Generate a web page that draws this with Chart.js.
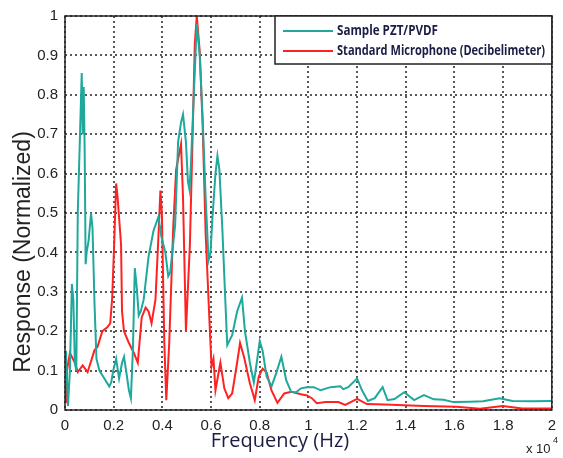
<!DOCTYPE html>
<html>
<head>
<meta charset="utf-8">
<script src="https://cdn.jsdelivr.net/npm/chart.js@4"></script>
<style>
  html, body { margin: 0; padding: 0; background: #fff; }
  #wrap { width: 563px; height: 458px; position: relative; }
</style>
</head>
<body>
<div id="wrap"><canvas id="respChart"></canvas></div>
<script>
// frequency in Hz, response normalized
const sampleFreq = [0, 40, 121, 202, 283, 343, 404, 465, 525, 626, 687, 727, 768, 808, 848, 889, 970, 1071, 1131, 1212,
    1293, 1414, 1616, 1818, 1899, 1980, 2101, 2222, 2343, 2424, 2545, 2626, 2707, 2788, 2868, 2949, 3030, 3111, 3232, 3434,
    3636, 3838, 3959, 4040, 4121, 4242, 4323, 4525, 4646, 4767, 4848, 4969, 5050, 5111, 5171, 5333, 5414, 5535, 5656, 5777,
    5898, 5979, 6060, 6181, 6262, 6343, 6464, 6585, 6666, 6787, 6868, 7070, 7272, 7393, 7595, 7757, 7878, 8000, 8120, 8282,
    8484, 8686, 8888, 9090, 9292, 9494, 9696, 9938, 10221, 10504, 10908, 11312, 11433, 11635, 12000, 12201, 12443, 12726, 13049, 13251,
    13534, 13938, 14342, 14746, 15150, 15554, 15958, 16645, 17170, 17857, 18382, 19190, 20000];
const sampleResp = [0.08, 0.15, 0.01, 0.10, 0.32, 0.28, 0.12, 0.10, 0.50, 0.72, 0.855, 0.70, 0.82, 0.66, 0.37, 0.40, 0.43, 0.50, 0.46, 0.27,
    0.13, 0.10, 0.08, 0.06, 0.07, 0.10, 0.13, 0.08, 0.12, 0.135, 0.085, 0.05, 0.03, 0.15, 0.36, 0.31, 0.24, 0.25, 0.28, 0.39,
    0.455, 0.49, 0.44, 0.42, 0.40, 0.34, 0.35, 0.47, 0.68, 0.73, 0.75, 0.68, 0.58, 0.56, 0.62, 0.86, 0.98, 0.90, 0.74, 0.54,
    0.38, 0.40, 0.49, 0.60, 0.645, 0.61, 0.46, 0.28, 0.165, 0.18, 0.19, 0.25, 0.285, 0.20, 0.12, 0.07, 0.12, 0.175, 0.15, 0.085,
    0.06, 0.095, 0.135, 0.075, 0.046, 0.045, 0.055, 0.058, 0.058, 0.05, 0.058, 0.06, 0.053, 0.058, 0.08, 0.05, 0.023, 0.03, 0.058, 0.025,
    0.028, 0.045, 0.025, 0.038, 0.027, 0.026, 0.02, 0.021, 0.022, 0.03, 0.023, 0.022, 0.023];

const micFreq = [0, 40, 81, 202, 404, 525, 727, 929, 1212, 1333, 1535, 1737, 1858, 1939, 2020, 2101, 2161, 2303, 2343, 2424,
    2626, 2828, 2990, 3151, 3313, 3434, 3555, 3717, 3838, 3919, 3979, 4080, 4161, 4282, 4444, 4565, 4767, 4848, 4969, 5131,
    5252, 5333, 5414, 5535, 5656, 5777, 5939, 6020, 6100, 6181, 6383, 6545, 6706, 6868, 7070, 7191, 7353, 7595, 7797, 7959,
    8120, 8282, 8484, 8727, 9009, 9292, 9696, 9938, 10140, 10342, 10706, 11231, 11514, 12000, 12403, 13130, 13938, 14746, 16079, 17049,
    17978, 18786, 20000];
const micResp = [0.02, 0.06, 0.10, 0.145, 0.12, 0.096, 0.113, 0.096, 0.152, 0.16, 0.20, 0.21, 0.22, 0.285, 0.42, 0.575, 0.54, 0.42, 0.25, 0.20,
    0.17, 0.145, 0.12, 0.235, 0.26, 0.25, 0.22, 0.28, 0.44, 0.557, 0.50, 0.17, 0.025, 0.17, 0.46, 0.61, 0.675, 0.54, 0.20, 0.42,
    0.72, 0.93, 1.0, 0.91, 0.72, 0.45, 0.22, 0.11, 0.13, 0.05, 0.12, 0.055, 0.03, 0.042, 0.12, 0.17, 0.135, 0.068, 0.025, 0.085,
    0.105, 0.095, 0.05, 0.018, 0.042, 0.046, 0.04, 0.037, 0.03, 0.017, 0.02, 0.02, 0.013, 0.028, 0.015, 0.014, 0.012, 0.01, 0.008, 0.003,
    0.01, 0.004, 0.004];

const xTicks = [0, 2000, 4000, 6000, 8000, 10000, 12000, 14000, 16000, 18000, 20000];
const yTicks = [0, 0.1, 0.2, 0.3, 0.4, 0.5, 0.6, 0.7, 0.8, 0.9, 1];

const seriesNames = ['Sample PZT/PVDF', 'Standard Microphone (Decibelimeter)'];
const tealColor = '#1fa89c';
const redColor = '#ff2222';

function toPoints(xs, ys) {
    return xs.map((x, i) => ({ x: x, y: ys[i] }));
}

// dotted grid drawn from the scales' tick positions
const gridPlugin = {
    id: 'dotGrid',
    beforeDatasetsDraw(chart) {
        const ctx = chart.ctx;
        const a = chart.chartArea;
        const xs = chart.scales.x, ys = chart.scales.y;
        ctx.save();
        ctx.strokeStyle = '#222222';
        ctx.lineWidth = 1.5;
        ctx.setLineDash([2, 3]);
        xTicks.forEach(v => {
            const px = Math.round(xs.getPixelForValue(v));
            ctx.beginPath();
            ctx.moveTo(px, a.top);
            ctx.lineTo(px, a.bottom);
            ctx.stroke();
        });
        yTicks.forEach(v => {
            const py = Math.round(ys.getPixelForValue(v));
            ctx.beginPath();
            ctx.moveTo(a.left, py);
            ctx.lineTo(a.right, py);
            ctx.stroke();
        });
        ctx.restore();
    }
};

function fitText(ctx, text, x, y, width) {
    const w = ctx.measureText(text).width;
    ctx.save();
    ctx.translate(x, y);
    ctx.scale(width / w, 1);
    ctx.fillText(text, 0, 0);
    ctx.restore();
}

// frame, inside legend, axis titles, x10^4 label
const decorPlugin = {
    id: 'decor',
    afterDatasetsDraw(chart) {
        const ctx = chart.ctx;
        const a = chart.chartArea;
        ctx.save();
        ctx.strokeStyle = '#222';
        ctx.lineWidth = 1.5;
        ctx.setLineDash([]);
        ctx.strokeRect(a.left, a.top, a.right - a.left, a.bottom - a.top);

        // legend box
        const lx = 275, ly = a.top, lw = a.right - 275, lh = 48;
        ctx.fillStyle = '#fff';
        ctx.fillRect(lx, ly, lw, lh);
        ctx.strokeRect(lx, ly, lw, lh);
        const colors = [tealColor, redColor];
        const widths = [101, 208];
        ctx.font = 'bold 14px "Open Sans", sans-serif';
        ctx.textBaseline = 'middle';
        ctx.textAlign = 'left';
        seriesNames.forEach((name, i) => {
            const yy = ly + 15 + i * 20;
            ctx.strokeStyle = colors[i];
            ctx.lineWidth = 2;
            ctx.beginPath();
            ctx.moveTo(lx + 8, yy);
            ctx.lineTo(lx + 58, yy);
            ctx.stroke();
            ctx.fillStyle = '#1b1d45';
            fitText(ctx, name, lx + 62, yy, widths[i]);
        });

        // axis titles
        ctx.fillStyle = '#1b1d45';
        ctx.font = '20px "Open Sans", sans-serif';
        ctx.textAlign = 'center';
        ctx.fillText('Frequency (Hz)', 280, 441);

        ctx.save();
        ctx.translate(24, 252);
        ctx.rotate(-Math.PI / 2);
        ctx.fillStyle = '#222';
        ctx.font = '23px "Liberation Sans", Arial, sans-serif';
        ctx.fillText('Response (Normalized)', 0, 0);
        ctx.restore();

        // exponent
        ctx.fillStyle = '#222';
        ctx.font = '13px "Liberation Sans", Arial, sans-serif';
        ctx.textAlign = 'left';
        ctx.fillText('x 10', 526, 449);
        ctx.font = '9px "Liberation Sans", Arial, sans-serif';
        ctx.fillText('4', 553, 441);
        ctx.restore();
    }
};

const ctx = document.getElementById('respChart').getContext('2d');
const chart = new Chart(ctx, {
    type: 'line',
    data: {
        datasets: [
            {
                label: seriesNames[0],
                data: toPoints(sampleFreq, sampleResp),
                borderColor: tealColor,
                borderWidth: 2,
                pointRadius: 0,
                tension: 0,
                fill: false
            },
            {
                label: seriesNames[1],
                data: toPoints(micFreq, micResp),
                borderColor: redColor,
                borderWidth: 2,
                pointRadius: 0,
                tension: 0,
                fill: false
            }
        ]
    },
    options: {
        responsive: true,
        maintainAspectRatio: false,
        animation: false,
        layout: { padding: { left: 0, right: 3, top: 15, bottom: 0 } },
        plugins: {
            legend: { display: false },
            tooltip: { enabled: false }
        },
        scales: {
            x: {
                type: 'linear',
                min: 0,
                max: 20000,
                afterBuildTicks: scale => { scale.ticks = xTicks.map(v => ({ value: v })); },
                afterFit: scale => { scale.height = 48; },
                grid: { display: false, drawTicks: false },
                border: { display: false },
                ticks: {
                    padding: 7,
                    color: '#222',
                    font: { family: '"Liberation Sans", Arial, sans-serif', size: 15 },
                    maxRotation: 0,
                    callback: v => String(+(v / 10000).toFixed(1))
                }
            },
            y: {
                min: 0,
                max: 1,
                afterBuildTicks: scale => { scale.ticks = yTicks.map(v => ({ value: v })); },
                afterFit: scale => { scale.width = 65; },
                grid: { display: false, drawTicks: false },
                border: { display: false },
                ticks: {
                    padding: 7,
                    color: '#222',
                    font: { family: '"Liberation Sans", Arial, sans-serif', size: 15 },
                    callback: v => String(+v.toFixed(1))
                }
            }
        }
    },
    plugins: [gridPlugin, decorPlugin]
});
</script>
</body>
</html>
